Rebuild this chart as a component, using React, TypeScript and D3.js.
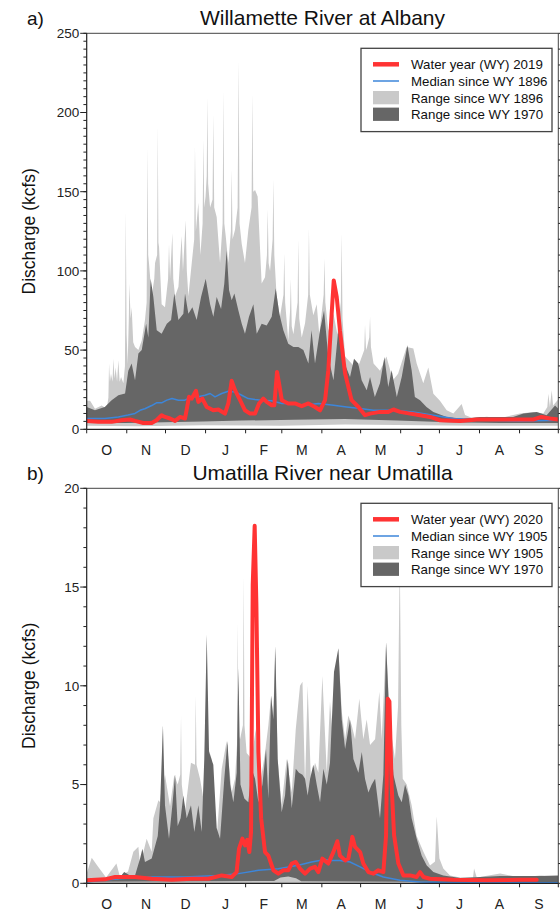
import React from 'react';
import * as d3 from 'd3';

type Pt = [number, number]; // [day of water year, discharge in kcfs]

const MONTH_LABELS = ['O', 'N', 'D', 'J', 'F', 'M', 'A', 'M', 'J', 'J', 'A', 'S'];
const MONTH_BOUNDS = [0, 31, 61, 92, 123, 151, 182, 212, 243, 273, 304, 335, 365];

// ---- Willamette River at Albany ----
const wilLightMax: Pt[] = [
  [0, 18], [2.6, 18], [6.4, 13], [11.6, 15], [15.5, 13], [16.8, 20], [17.3, 41.5], [18, 30], [18.8, 35],
  [20, 30], [20.6, 44.6], [21.5, 32], [22.4, 39], [23.5, 30], [24.5, 43.6], [25.5, 30], [26.6, 33], [28.4, 29],
  [29.6, 40], [30.2, 138], [30.9, 60], [31.7, 41], [32.6, 70], [33, 92], [34, 70], [34.8, 77], [36, 55],
  [37.4, 52], [40, 50], [42.6, 56], [45.1, 69], [46.4, 80], [47, 178], [47.6, 110], [48.2, 105], [50.3, 84],
  [52.3, 95], [52.9, 105], [54.5, 110], [55, 192], [55.5, 118], [56, 115], [58, 79], [60.6, 77], [63, 95],
  [63.7, 117], [64.5, 95], [66.3, 124], [67, 95], [68.4, 84], [71, 90], [73.5, 122], [74.5, 100], [76.6, 132],
  [77.5, 100], [78.7, 84], [81.3, 105], [83.2, 120], [83.8, 179], [84.5, 125], [86.4, 143], [88, 110],
  [89.7, 130], [90.3, 183], [91, 140], [92, 147], [92.9, 160], [93.4, 210], [94, 155], [95.5, 140], [97.4, 145],
  [98, 199], [98.7, 140], [100.6, 134], [103.2, 105], [105.2, 130], [105.8, 214], [106.5, 130], [107.6, 122],
  [109.6, 105], [111.6, 125], [112.2, 164], [112.9, 120], [114.8, 126], [116.8, 140], [117.6, 233], [118.3, 130],
  [120, 117], [122.5, 105], [125.1, 126], [127.6, 140], [128.2, 212], [128.9, 150], [130.3, 151], [132.3, 147],
  [135.4, 92], [138, 96], [139.5, 110], [140.1, 139], [140.8, 105], [141.9, 100], [143.9, 120], [144.5, 158],
  [145.2, 110], [147, 84], [149.6, 71], [152.3, 85], [152.9, 111], [153.6, 80], [156, 56], [157.4, 75], [158, 95],
  [158.7, 65], [160, 60], [163.2, 80], [163.8, 120], [164.5, 70], [166.4, 58], [169, 67], [171.4, 85], [172, 127],
  [172.7, 85], [175.4, 72], [178, 79], [180, 60], [183.4, 85], [184, 108], [184.7, 80], [187, 62], [191, 73],
  [194, 60], [196.7, 80], [197.3, 124], [198, 70], [200, 46], [205, 41.5], [209, 37], [214.8, 50], [215.4, 66],
  [216.2, 50], [217, 52], [218.7, 58], [219.3, 71], [220, 52], [222, 41.5], [227, 37], [232, 46], [237, 31],
  [241, 35], [247.6, 52], [252.8, 51], [255.4, 41.5], [260.5, 29], [264.4, 39], [268.3, 22.5], [273.4, 18],
  [278.6, 12], [283.8, 10], [290.2, 16], [292.8, 9], [299, 7], [309.6, 8], [319.9, 7], [330, 9], [335.4, 10],
  [345.7, 11], [353.4, 10], [356.5, 14], [357.3, 22.5], [358.5, 14], [359.9, 24.6], [361, 15], [365, 19],
];
const wilLightMin: Pt[] = [
  [0, 2.2], [40, 2], [90, 2.5], [150, 2.3], [200, 3], [260, 2.6], [300, 2.2], [365, 2.2],
];
const wilDarkMax: Pt[] = [
  [0, 14], [6.4, 12], [14, 14], [19.3, 18.4], [24.5, 21.5], [29.7, 22.6], [32.2, 37], [34.8, 41.5], [37.4, 31],
  [40, 47.8], [42.6, 50], [46, 66.7], [47.7, 58], [49.5, 95], [51.6, 83.6], [54.2, 62.5], [58, 60.4], [62, 66.7],
  [65.3, 69], [67.8, 85.7], [71, 69], [74.8, 73], [76.1, 85.7], [78.7, 73], [81.8, 77], [85.1, 69], [88.5, 83.6],
  [92.1, 95], [95.5, 79], [98, 71], [100.6, 83.6], [104, 76], [106.5, 92], [108.3, 113], [110.2, 87.8],
  [112.2, 81.5], [114.3, 85.7], [117.4, 75], [120, 66.7], [122.5, 60.4], [125.6, 71], [129, 79], [131.6, 60.4],
  [135.4, 66.7], [139.3, 65.6], [143.2, 71], [146.3, 89], [149.1, 73], [152.2, 62.5], [156, 54], [160, 52],
  [163.8, 52], [167.7, 50], [171.6, 41.5], [174, 62.5], [176.7, 41.5], [180.6, 62.5], [183.7, 75], [187, 45.6],
  [191, 31], [194.7, 62.5], [198.6, 43.6], [203.8, 33], [206.9, 44.6], [210.2, 41.5], [212.8, 31], [216.7, 24.6],
  [219.3, 33], [223, 20.4], [227, 29], [230.4, 45.6], [233.4, 26.7], [236, 37.3], [240, 20.4], [243.8, 33],
  [248.2, 53], [251.5, 37.3], [254, 20.4], [258, 18.3], [263, 14], [268.3, 10.9], [278.6, 7.8], [291.5, 6.7],
  [304.4, 7.8], [317.3, 7.8], [330, 7.8], [338, 9.9], [348.3, 10.9], [356, 8.8], [362.5, 15], [365, 13],
];
const wilDarkMin: Pt[] = [
  [0, 4], [30, 4], [60, 4.5], [90, 5], [120, 5.5], [160, 6], [200, 6.5], [240, 5.5], [280, 4.5], [320, 4], [365, 4],
];
const wilMedian: Pt[] = [
  [0, 6.8], [14, 6.8], [24.5, 7.8], [32, 9], [37.4, 10], [41.3, 12], [45, 13], [50.3, 15], [54, 16.7], [58, 16.7],
  [62, 18.4], [66, 19.4], [71, 18.4], [76, 18.4], [81, 20.5], [86.4, 20.5], [91.6, 21.5], [95.5, 22.6],
  [99.3, 20.5], [104.5, 22.6], [109.6, 24], [114.8, 23.6], [120, 21.5], [125, 19.4], [130.3, 18.8],
  [135.4, 18.4], [143, 18], [151, 16.3], [158.7, 16.3], [169, 15.2], [179.3, 16.3], [191, 15.2], [201.2, 14.1],
  [211.6, 13.1], [221.9, 12], [237.4, 12], [252.8, 11], [268.3, 8.9], [283.8, 6.8], [309.6, 5.7], [335.4, 5.3],
  [365, 5.7],
];
const wilWY2019: Pt[] = [
  [0, 5.3], [9, 4.7], [19.3, 4.7], [27, 5.7], [33.5, 6.2], [37.4, 5.3], [43.8, 4], [50.3, 4], [54, 5.7],
  [58, 8.9], [60.6, 7.8], [64.5, 6.8], [68.4, 5.3], [72.2, 7.8], [76.1, 6.8], [79.2, 20.5], [81.3, 19.4],
  [84.6, 24.3], [86.4, 17.3], [89.5, 19.4], [92.9, 14.1], [98, 12], [101.9, 12.5], [107, 9.9], [109.6, 16.3],
  [112.2, 30.6], [114.8, 24.7], [118.7, 18.4], [122.5, 12], [126.4, 9.9], [130.3, 9.9], [133.4, 16.3],
  [136.7, 19.4], [139.3, 17.3], [143.2, 15.2], [145.2, 15.2], [147.3, 36.2], [148.9, 28.9], [151, 18.4],
  [156, 16.3], [161.2, 16.3], [166.4, 14.6], [171.6, 16.3], [176.7, 14.1], [180.6, 12], [184.5, 18.4],
  [187, 37.3], [189.6, 73], [191.2, 94], [193.5, 83.6], [196, 62.5], [200, 35.2], [205, 18.4], [210.3, 14.1],
  [215.4, 8.9], [219.3, 9.9], [227, 11], [233.5, 11], [237.4, 12.5], [242.5, 11], [250.3, 9.9], [258, 8.9],
  [265.7, 7.8], [273.5, 5.7], [289, 5.3], [301.9, 6.2], [317.3, 6.2], [335.4, 6.2], [345.7, 6.2], [352, 7.8],
  [358.6, 6.8], [365, 6.2],
];

// ---- Umatilla River near Umatilla ----
const umaLightMax: Pt[] = [
  [0, 0.5], [3.9, 1.3], [8.7, 0.85], [15, 0.3], [23, 1], [25.7, 0.35], [32, 0.6], [36.1, 1.6], [40, 1.85],
  [41.3, 0.9], [46.4, 2.25], [50.3, 1.6], [51.6, 3.3], [55.5, 4.2], [56.8, 4.1], [58.2, 5], [58.8, 8], [59.4, 5],
  [60.6, 5.5], [64.5, 3.9], [67.8, 5.5], [70.4, 5], [72.4, 5.5], [73, 8.5], [73.6, 5], [76.1, 3.6], [80.7, 6.1],
  [83.8, 6], [84.4, 9.5], [85, 6], [87.7, 5.3], [90.3, 4.3], [92.3, 7], [92.9, 12.6], [93.5, 7], [96.7, 6.3],
  [100.6, 2.3], [104.5, 5.8], [108.3, 7.2], [112.2, 4.6], [114.8, 5.3], [116.3, 7], [116.9, 13.2], [117.5, 7.5],
  [118.7, 7.3], [120.9, 8], [121.5, 15.6], [122.1, 8], [123.8, 6.6], [127.7, 6.3], [130.8, 7.8], [134.1, 5],
  [138, 6.6], [140.6, 8], [142.7, 9.5], [144.5, 8.5], [145.8, 12], [147.8, 6.3], [150.9, 4], [154.8, 6.3],
  [158.7, 4.6], [161.8, 7.8], [165.1, 10], [167, 10.2], [169, 5], [171, 10], [173.6, 5.1], [176.7, 6.1],
  [179.3, 5.6], [182.4, 10.5], [185.8, 5.6], [188.3, 9.2], [190.9, 7], [194.8, 11.9], [197.4, 8.7], [200, 7.3],
  [202.5, 8.5], [205.1, 8], [207.7, 7.3], [211, 9.35], [214.1, 7.3], [216.7, 8.3], [219.3, 7], [223.2, 7.3],
  [226.5, 9.7], [228.3, 7.3], [231.7, 12.2], [234.8, 8], [238.6, 6.3], [241, 9], [242.3, 16.5], [243.5, 8],
  [244.6, 5.3], [247.7, 5], [251.5, 3.95], [255.4, 2.4], [260.6, 1.6], [265.7, 0.9], [269.6, 1.1], [270.9, 3.4],
  [273, 1.25], [276, 0.75], [281.2, 0.4], [289, 0.3], [299, 0.3], [299.8, 0.75], [301.9, 0.3], [320, 0.5],
  [335.4, 0.3], [350.9, 0.4], [365, 0.3],
];
const umaLightMin: Pt[] = [[0, 0], [365, 0]];
const umaDarkMax: Pt[] = [
  [0, 0.2], [24.5, 0.2], [29, 0.57], [33.5, 0.4], [37.4, 0.4], [41.3, 1.25], [43.1, 1.75], [45.1, 1.08],
  [50.3, 1.25], [55, 2.4], [56.8, 3.95], [59, 8], [60.6, 3.95], [63.7, 2.26], [66.3, 3.95], [68.4, 5.5],
  [70.4, 2.9], [72.7, 3.3], [74.8, 4.45], [77.4, 3.3], [80.7, 3.95], [83.3, 2.6], [86.4, 3.95], [89, 2.6],
  [91, 6.3], [92.9, 12.6], [94.7, 6.65], [98, 6], [100.6, 2.8], [103.2, 2.26], [106.5, 5.3], [108.9, 7.2],
  [111, 5], [113.5, 4.1], [116.1, 5.6], [117.4, 10.9], [119, 5], [122, 4.3], [125.1, 4.1], [127.7, 5.8],
  [130.3, 5.3], [132.9, 4.1], [136, 5], [138.8, 6.8], [140.6, 4.3], [142.7, 9.5], [144.5, 8.3], [146, 12],
  [147.8, 6.3], [150.9, 3.6], [153.5, 4.45], [155.6, 6.3], [158.7, 3.8], [161.8, 5.8], [164.3, 5.6], [167, 5.5],
  [169, 5.3], [171, 4.45], [172.9, 5.3], [175.4, 6], [178, 5], [180.6, 4.1], [183.2, 5.8], [185.8, 5],
  [188.3, 6.1], [191.4, 10.7], [194.8, 11.9], [197.4, 8.3], [200, 6.8], [203.8, 8.3], [206.4, 6.3],
  [210.3, 5.6], [212.9, 6.65], [215.4, 5.3], [218, 4.6], [220.6, 5], [223.2, 5.3], [227, 3.3], [229.6, 5.5],
  [231.7, 12.2], [234.3, 8.3], [237.4, 5.5], [241.2, 4.45], [243.8, 4.1], [246.4, 5], [249, 4.45], [251.5, 3.3],
  [255.4, 2.26], [259.3, 1.4], [263.2, 0.9], [268.3, 0.57], [276, 0.4], [289, 0.27], [320, 0.37], [350.9, 0.37],
  [365, 0.4],
];
const umaDarkMin: Pt[] = [
  [0, 0.08], [100, 0.1], [145, 0.12], [150, 0.3], [156, 0.35], [162, 0.25], [166, 0.1], [365, 0.05],
];
const umaMedian: Pt[] = [
  [0, 0.07], [24.5, 0.23], [50.3, 0.32], [76, 0.32], [102, 0.4], [117.4, 0.49], [133, 0.66], [148.3, 0.74],
  [163.8, 0.91], [174, 1.08], [184.5, 1.2], [188.3, 1.16], [196, 1.16], [203.8, 1.08], [211.6, 0.83],
  [219.3, 0.57], [229.6, 0.32], [242.5, 0.15], [258, 0.07], [284, 0.03], [365, 0.03],
];
const umaWY2020: Pt[] = [
  [0, 0.15], [14, 0.2], [22, 0.32], [37.4, 0.32], [50.3, 0.23], [65.8, 0.18], [81.3, 0.23], [94.2, 0.23],
  [104.5, 0.4], [112.2, 0.32], [116, 0.57], [117.9, 1.75], [120.5, 2.26], [122.5, 1.92], [124.3, 2.2],
  [125.9, 1.58], [127.2, 2.6], [128.5, 15.1], [130, 18.1], [131.3, 14.2], [132.9, 6.65], [135, 3.3], [138, 1.58],
  [140.6, 1.4], [144.5, 0.66], [148.3, 0.49], [152.2, 0.66], [156, 0.66], [158.7, 1], [161.8, 1.08],
  [165.1, 0.74], [169, 0.49], [172.9, 0.74], [176.7, 0.83], [179.3, 0.57], [182.4, 1.25], [187, 1],
  [190.9, 1.58], [194, 2.13], [196, 1.4], [200, 1.16], [202.5, 1.25], [205.6, 2.35], [207.7, 1.84],
  [211.6, 1.58], [214.1, 1], [218, 0.57], [221.9, 0.49], [225.7, 0.66], [229.6, 0.57], [231.7, 2.43],
  [233, 9.35], [234.3, 9.2], [236, 4.96], [237.9, 2.43], [241.2, 1], [245.1, 0.4], [250.3, 0.4], [255.4, 0.32],
  [258, 0.57], [260.6, 0.32], [265.7, 0.23], [283.8, 0.18], [309.6, 0.15], [335.4, 0.18], [348.3, 0.18],
];

const FONT = '"Liberation Sans", Arial, Helvetica, sans-serif';
const LEFT = 86.7;
const RIGHT = 558.3;
const LIGHT = '#c9c9c9';
const DARK = '#666666';
const RED = '#ff3333';
const BLUE = '#3d86da';

interface PanelProps {
  id: string;
  tag: string;
  title: string;
  top: number;
  bottom: number;
  yMax: number;
  major: number;
  minorLeft: number;
  minorRight: number;
  lightMax: Pt[];
  lightMin: Pt[];
  darkMax: Pt[];
  darkMin: Pt[];
  median: Pt[];
  current: Pt[];
  legend: string[];
}

function Panel(p: PanelProps) {
  const x = d3.scaleLinear().domain([0, 365]).range([LEFT, RIGHT]);
  const y = d3.scaleLinear().domain([0, p.yMax]).range([p.bottom, p.top]);
  const line = d3.line<Pt>().x((d) => x(d[0])).y((d) => y(d[1]));
  const band = (hi: Pt[], lo: Pt[]) => line([...hi, ...lo.slice().reverse()]) + 'Z';

  const majorTicks = d3.range(0, p.yMax + 1e-9, p.major);
  const minorTicksL = d3.range(0, p.yMax + 1e-9, p.minorLeft);
  const minorTicksR = d3.range(0, p.yMax + 1e-9, p.minorRight);
  const clipId = `clip-${p.id}`;

  const lgTop = p.top + 15;
  const lgLeft = 361;
  const sw0 = 373;
  const sw1 = 399;
  const tx = 411;

  return (
    <g>
      <defs>
        <clipPath id={clipId}>
          <rect x={LEFT} y={p.top} width={RIGHT - LEFT} height={p.bottom - p.top} />
        </clipPath>
      </defs>

      <g clipPath={`url(#${clipId})`}>
        <path d={band(p.lightMax, p.lightMin)} fill={LIGHT} stroke="none" />
        <path d={band(p.darkMax, p.darkMin)} fill={DARK} stroke="none" />
        <path d={line(p.median) ?? ''} fill="none" stroke={BLUE} strokeWidth={1.5} strokeLinejoin="round" />
        <path d={line(p.current) ?? ''} fill="none" stroke={RED} strokeWidth={4} strokeLinejoin="round" strokeLinecap="round" />
      </g>

      {/* frame */}
      <line x1={LEFT} x2={RIGHT} y1={p.top} y2={p.top} stroke="#444" strokeWidth={1} />
      <line x1={RIGHT} x2={RIGHT} y1={p.top} y2={p.bottom} stroke="#444" strokeWidth={1} />
      <line x1={LEFT} x2={LEFT} y1={p.top} y2={p.bottom} stroke="#222" strokeWidth={1.2} />
      <line x1={LEFT} x2={RIGHT} y1={p.bottom} y2={p.bottom} stroke="#222" strokeWidth={1.2} />

      {/* left axis ticks */}
      {minorTicksL.map((v) => (
        <line key={`ml${v}`} x1={LEFT - 3.3} x2={LEFT} y1={y(v)} y2={y(v)} stroke="#222" strokeWidth={1} />
      ))}
      {majorTicks.map((v) => (
        <g key={`mj${v}`}>
          <line x1={LEFT - 6.5} x2={LEFT} y1={y(v)} y2={y(v)} stroke="#222" strokeWidth={1} />
          <text x={LEFT - 7.5} y={y(v)} dy="0.36em" textAnchor="end" fontSize={13.5} fill="#222" fontFamily={FONT}>
            {v}
          </text>
        </g>
      ))}
      {/* right axis ticks */}
      {minorTicksR.map((v) => (
        <line key={`mr${v}`} x1={RIGHT} x2={RIGHT + 3} y1={y(v)} y2={y(v)} stroke="#222" strokeWidth={1} />
      ))}

      {/* month ticks and labels */}
      {MONTH_BOUNDS.map((d) => (
        <line key={`mt${d}`} x1={x(d)} x2={x(d)} y1={p.bottom} y2={p.bottom + 4} stroke="#222" strokeWidth={1} />
      ))}
      {MONTH_LABELS.map((m, i) => (
        <text
          key={`mlab${i}`}
          x={x((MONTH_BOUNDS[i] + MONTH_BOUNDS[i + 1]) / 2)}
          y={p.bottom + 26}
          textAnchor="middle"
          fontSize={14}
          fill="#222"
          fontFamily={FONT}
        >
          {m}
        </text>
      ))}

      {/* titles */}
      <text x={(LEFT + RIGHT) / 2} y={p.top - 8.3} textAnchor="middle" fontSize={21} fill="#111" fontFamily={FONT}>
        {p.title}
      </text>
      <text x={27} y={p.top - 8.3} fontSize={19} fill="#111" fontFamily={FONT}>
        {p.tag}
      </text>
      <text
        transform={`translate(35,${(p.top + p.bottom) / 2}) rotate(-90)`}
        textAnchor="middle"
        fontSize={17.5}
        fill="#111"
        fontFamily={FONT}
      >
        Discharge (kcfs)
      </text>

      {/* legend */}
      <rect x={lgLeft} y={lgTop} width={191} height={83.3} fill="#fff" stroke="#444" strokeWidth={1.3} />
      <line x1={sw0} x2={sw1} y1={lgTop + 16} y2={lgTop + 16} stroke={RED} strokeWidth={4.5} />
      <line x1={sw0} x2={sw1} y1={lgTop + 32.7} y2={lgTop + 32.7} stroke={BLUE} strokeWidth={1.5} />
      <rect x={sw0} y={lgTop + 42.7} width={sw1 - sw0} height={13.3} fill={LIGHT} />
      <rect x={sw0} y={lgTop + 59.3} width={sw1 - sw0} height={13.3} fill={DARK} />
      {p.legend.map((t, i) => (
        <text key={`lg${i}`} x={tx} y={lgTop + 21 + i * 16.7} fontSize={13.3} fill="#111" fontFamily={FONT}>
          {t}
        </text>
      ))}
    </g>
  );
}

export default function App() {
  return (
    <svg
      width={560}
      height={913}
      viewBox="0 0 560 913"
      style={{ position: 'absolute', left: 0, top: 0, background: '#fff' }}
    >
      <rect x={0} y={0} width={560} height={913} fill="#fff" />
      <Panel
        id="a"
        tag="a)"
        title="Willamette River at Albany"
        top={33.3}
        bottom={429.3}
        yMax={250}
        major={50}
        minorLeft={5}
        minorRight={10}
        lightMax={wilLightMax}
        lightMin={wilLightMin}
        darkMax={wilDarkMax}
        darkMin={wilDarkMin}
        median={wilMedian}
        current={wilWY2019}
        legend={['Water year (WY) 2019', 'Median since WY 1896', 'Range since WY 1896', 'Range since WY 1970']}
      />
      <Panel
        id="b"
        tag="b)"
        title="Umatilla River near Umatilla"
        top={488.3}
        bottom={883.3}
        yMax={20}
        major={5}
        minorLeft={1}
        minorRight={1}
        lightMax={umaLightMax}
        lightMin={umaLightMin}
        darkMax={umaDarkMax}
        darkMin={umaDarkMin}
        median={umaMedian}
        current={umaWY2020}
        legend={['Water year (WY) 2020', 'Median since WY 1905', 'Range since WY 1905', 'Range since WY 1970']}
      />
    </svg>
  );
}
